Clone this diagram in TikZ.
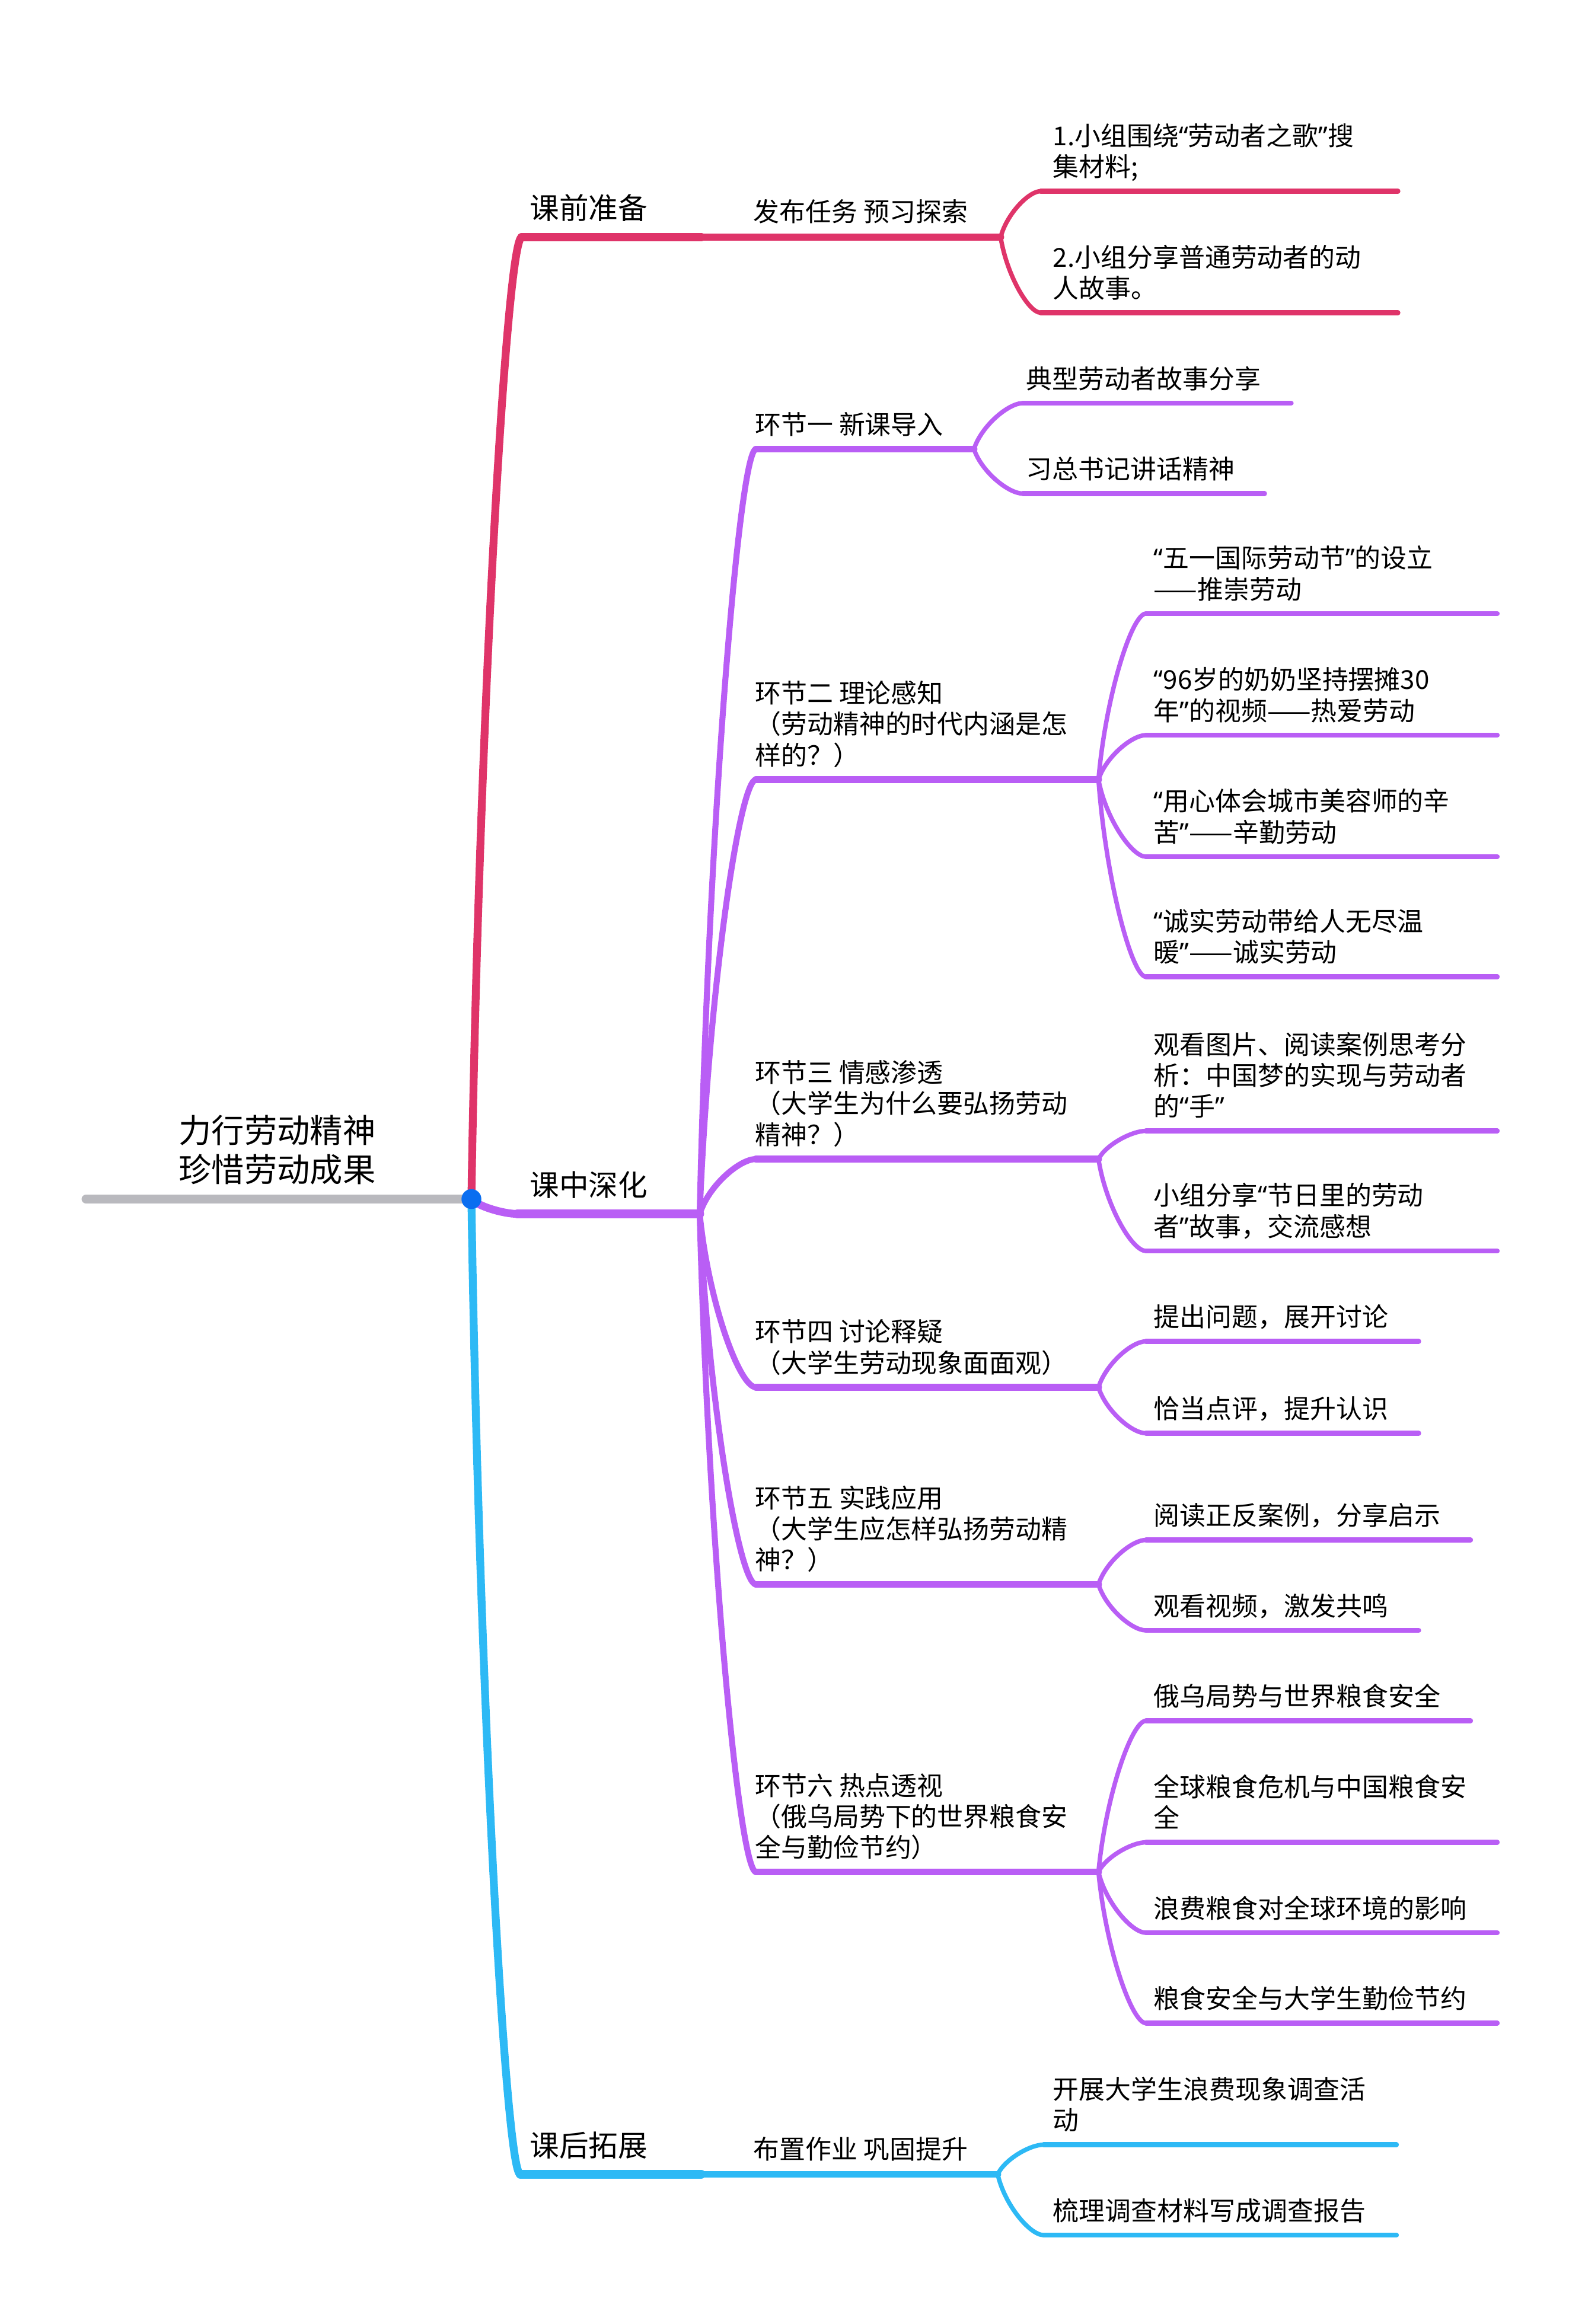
\documentclass[tikz,border=0pt]{standalone}
\usepackage{fontspec}
\setmainfont{Noto Sans CJK SC}
\newfontfamily\qfont{Noto Sans}
\usetikzlibrary{calc}
\definecolor{rd}{HTML}{DF3469}
\definecolor{pu}{HTML}{B95EF5}
\definecolor{bl}{HTML}{2DB9F5}
\definecolor{gy}{HTML}{B9B9BE}
\definecolor{dt}{HTML}{0A6EF0}
\newcommand{\qo}{{\qfont “}}
\newcommand{\qc}{{\qfont ”}}
\newcommand{\lnk}[3]{\draw[#1] (#2) .. controls ($(#2)!.5!(#2|-#3)+.15*(#3)-.15*(#2|-#3)$) and ($(#3)!.3!(#2|-#3)$) .. (#3);}

\begin{document}
\begin{tikzpicture}[x=0.02cm,y=0.02cm,line cap=round,
 troot/.style={anchor=base,align=center,inner sep=0pt,font=\fontsize{12.6pt}{15pt}\selectfont},
 tone/.style={anchor=base west,inner sep=0pt,font=\fontsize{11.3pt}{13pt}\selectfont},
 ttwo/.style={anchor=base west,align=left,inner sep=0pt,font=\fontsize{10pt}{11.85pt}\selectfont},
 tleaf/.style={ttwo},
 lineone/.style={line width=3.4pt},
 linetwo/.style={line width=2.7pt},
 lineleaf/.style={line width=1.9pt},
 linkone/.style={line width=3pt},
 linktwo/.style={line width=2.3pt},
 linkleaf/.style={line width=1.7pt}]
\useasboundingbox (0,0) rectangle (1069,-1568);

\coordinate (l0) at (58,-809);
\coordinate (p) at (318,-809);
\node[troot] (root) at (187,-797.4) {力行劳动精神\\珍惜劳动成果};

\coordinate (as) at (352,-160);
\coordinate (ae) at (473,-160);
\coordinate (ah) at (675,-160);
\coordinate (a1s) at (702,-129);
\coordinate (a1e) at (943,-129);
\coordinate (a2s) at (702,-211);
\coordinate (a2e) at (943,-211);
\node[tone] (a) at (357,-148) {课前准备};
\node[ttwo] (aa) at (508,-149.5) {发布任务 预习探索};
\node[tleaf] (a1) at (710,-119) {1.小组围绕\qo 劳动者之歌\qc 搜\\集材料;};
\node[tleaf] (a2) at (710,-201) {2.小组分享普通劳动者的动\\人故事。};
\lnk{rd,linkone}{p}{as}
\draw[rd,lineone] (as) -- (ae);
\draw[rd,linetwo] (ae) -- (ah);
\lnk{rd,linkleaf}{ah}{a1s}
\lnk{rd,linkleaf}{ah}{a2s}
\draw[rd,lineleaf] (a1s) -- (a1e);
\draw[rd,lineleaf] (a2s) -- (a2e);

\coordinate (bs) at (349,-819);
\coordinate (bh) at (472,-819);
\node[tone] (b) at (357,-807) {课中深化};
\lnk{pu,linkone}{p}{bs}
\draw[pu,lineone] (bs) -- (bh);

\coordinate (c1s) at (510,-303);
\coordinate (c1h) at (657,-303);
\coordinate (c2s) at (510,-526);
\coordinate (c2h) at (741,-526);
\coordinate (c3s) at (510,-782);
\coordinate (c3h) at (741,-782);
\coordinate (c4s) at (510,-936);
\coordinate (c4h) at (741,-936);
\coordinate (c5s) at (510,-1069);
\coordinate (c5h) at (741,-1069);
\coordinate (c6s) at (510,-1263);
\coordinate (c6h) at (741,-1263);
\node[ttwo] (c1) at (509,-293) {环节一 新课导入};
\node[ttwo] (c2) at (509,-516) {环节二 理论感知\\（劳动精神的时代内涵是怎\\样的？）};
\node[ttwo] (c3) at (509,-772) {环节三 情感渗透\\（大学生为什么要弘扬劳动\\精神？）};
\node[ttwo] (c4) at (509,-926) {环节四 讨论释疑\\（大学生劳动现象面面观）};
\node[ttwo] (c5) at (509,-1059) {环节五 实践应用\\（大学生应怎样弘扬劳动精\\神？）};
\node[ttwo] (c6) at (509,-1253) {环节六 热点透视\\（俄乌局势下的世界粮食安\\全与勤俭节约）};
\lnk{pu,linktwo}{bh}{c1s}
\lnk{pu,linktwo}{bh}{c2s}
\lnk{pu,linktwo}{bh}{c3s}
\lnk{pu,linktwo}{bh}{c4s}
\lnk{pu,linktwo}{bh}{c5s}
\lnk{pu,linktwo}{bh}{c6s}
\draw[pu,linetwo] (c1s) -- (c1h);
\draw[pu,linetwo] (c2s) -- (c2h);
\draw[pu,linetwo] (c3s) -- (c3h);
\draw[pu,linetwo] (c4s) -- (c4h);
\draw[pu,linetwo] (c5s) -- (c5h);
\draw[pu,linetwo] (c6s) -- (c6h);

\coordinate (c11s) at (690,-272);
\coordinate (c11e) at (871,-272);
\coordinate (c12s) at (690,-333);
\coordinate (c12e) at (853,-333);
\node[tleaf] (c11) at (692,-262) {典型劳动者故事分享};
\node[tleaf] (c12) at (692,-323) {习总书记讲话精神};
\lnk{pu,linkleaf}{c1h}{c11s}
\lnk{pu,linkleaf}{c1h}{c12s}
\draw[pu,lineleaf] (c11s) -- (c11e);
\draw[pu,lineleaf] (c12s) -- (c12e);

\coordinate (c21s) at (773,-414);
\coordinate (c21e) at (1010,-414);
\coordinate (c22s) at (773,-496);
\coordinate (c22e) at (1010,-496);
\coordinate (c23s) at (773,-578);
\coordinate (c23e) at (1010,-578);
\coordinate (c24s) at (773,-659);
\coordinate (c24e) at (1010,-659);
\node[tleaf] (c21) at (778,-404) {\qo 五一国际劳动节\qc 的设立\\——推崇劳动};
\node[tleaf] (c22) at (778,-486) {\qo 96岁的奶奶坚持摆摊30\\年\qc 的视频——热爱劳动};
\node[tleaf] (c23) at (778,-568) {\qo 用心体会城市美容师的辛\\苦\qc ——辛勤劳动};
\node[tleaf] (c24) at (778,-649) {\qo 诚实劳动带给人无尽温\\暖\qc ——诚实劳动};
\lnk{pu,linkleaf}{c2h}{c21s}
\lnk{pu,linkleaf}{c2h}{c22s}
\lnk{pu,linkleaf}{c2h}{c23s}
\lnk{pu,linkleaf}{c2h}{c24s}
\draw[pu,lineleaf] (c21s) -- (c21e);
\draw[pu,lineleaf] (c22s) -- (c22e);
\draw[pu,lineleaf] (c23s) -- (c23e);
\draw[pu,lineleaf] (c24s) -- (c24e);

\coordinate (c31s) at (773,-763);
\coordinate (c31e) at (1010,-763);
\coordinate (c32s) at (773,-844);
\coordinate (c32e) at (1010,-844);
\node[tleaf] (c31) at (778,-753) {观看图片、阅读案例思考分\\析：中国梦的实现与劳动者\\的\qo 手\qc};
\node[tleaf] (c32) at (778,-834) {小组分享\qo 节日里的劳动\\者\qc 故事，交流感想};
\lnk{pu,linkleaf}{c3h}{c31s}
\lnk{pu,linkleaf}{c3h}{c32s}
\draw[pu,lineleaf] (c31s) -- (c31e);
\draw[pu,lineleaf] (c32s) -- (c32e);

\coordinate (c41s) at (773,-905);
\coordinate (c41e) at (957,-905);
\coordinate (c42s) at (773,-967);
\coordinate (c42e) at (957,-967);
\node[tleaf] (c41) at (778,-895) {提出问题，展开讨论};
\node[tleaf] (c42) at (778,-957) {恰当点评，提升认识};
\lnk{pu,linkleaf}{c4h}{c41s}
\lnk{pu,linkleaf}{c4h}{c42s}
\draw[pu,lineleaf] (c41s) -- (c41e);
\draw[pu,lineleaf] (c42s) -- (c42e);

\coordinate (c51s) at (773,-1039);
\coordinate (c51e) at (992,-1039);
\coordinate (c52s) at (773,-1100);
\coordinate (c52e) at (957,-1100);
\node[tleaf] (c51) at (778,-1029) {阅读正反案例，分享启示};
\node[tleaf] (c52) at (778,-1090) {观看视频，激发共鸣};
\lnk{pu,linkleaf}{c5h}{c51s}
\lnk{pu,linkleaf}{c5h}{c52s}
\draw[pu,lineleaf] (c51s) -- (c51e);
\draw[pu,lineleaf] (c52s) -- (c52e);

\coordinate (c61s) at (773,-1161);
\coordinate (c61e) at (992,-1161);
\coordinate (c62s) at (773,-1243);
\coordinate (c62e) at (1010,-1243);
\coordinate (c63s) at (773,-1304);
\coordinate (c63e) at (1010,-1304);
\coordinate (c64s) at (773,-1365);
\coordinate (c64e) at (1010,-1365);
\node[tleaf] (c61) at (778,-1151) {俄乌局势与世界粮食安全};
\node[tleaf] (c62) at (778,-1233) {全球粮食危机与中国粮食安\\全};
\node[tleaf] (c63) at (778,-1294) {浪费粮食对全球环境的影响};
\node[tleaf] (c64) at (778,-1355) {粮食安全与大学生勤俭节约};
\lnk{pu,linkleaf}{c6h}{c61s}
\lnk{pu,linkleaf}{c6h}{c62s}
\lnk{pu,linkleaf}{c6h}{c63s}
\lnk{pu,linkleaf}{c6h}{c64s}
\draw[pu,lineleaf] (c61s) -- (c61e);
\draw[pu,lineleaf] (c62s) -- (c62e);
\draw[pu,lineleaf] (c63s) -- (c63e);
\draw[pu,lineleaf] (c64s) -- (c64e);

\coordinate (es) at (351,-1467);
\coordinate (ee) at (473,-1467);
\coordinate (eh) at (673,-1467);
\coordinate (e1s) at (704,-1447);
\coordinate (e1e) at (942,-1447);
\coordinate (e2s) at (704,-1508);
\coordinate (e2e) at (942,-1508);
\node[tone] (e) at (357,-1455) {课后拓展};
\node[ttwo] (ea) at (508,-1456.5) {布置作业 巩固提升};
\node[tleaf] (e1) at (710,-1437) {开展大学生浪费现象调查活\\动};
\node[tleaf] (e2) at (710,-1498) {梳理调查材料写成调查报告};
\lnk{bl,linkone}{p}{es}
\draw[bl,lineone] (es) -- (ee);
\draw[bl,linetwo] (ee) -- (eh);
\lnk{bl,linkleaf}{eh}{e1s}
\lnk{bl,linkleaf}{eh}{e2s}
\draw[bl,lineleaf] (e1s) -- (e1e);
\draw[bl,lineleaf] (e2s) -- (e2e);

\draw[gy,line width=3.4pt] (l0) -- (p);
\fill[dt] (p) circle[radius=6.7];
\end{tikzpicture}
\end{document}
